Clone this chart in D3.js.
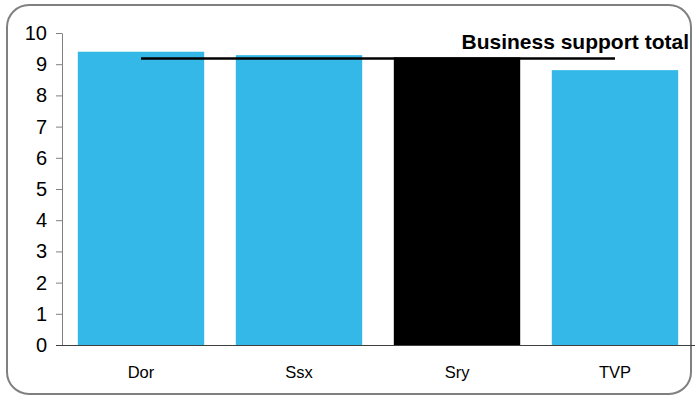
<!DOCTYPE html>
<html><head><meta charset="utf-8">
<script src="https://cdn.jsdelivr.net/npm/d3@7"></script>
<style>
html,body{margin:0;padding:0;background:#fff;}
svg{display:block;font-family:"Liberation Sans",Arial,sans-serif;}
</style></head>
<body>
<svg id="chart" width="697" height="397"></svg>
<script>
const categories = ["Dor", "Ssx", "Sry", "TVP"];
const values = [9.40, 9.29, 9.22, 8.81];
const barColors = ["#33b8e8", "#33b8e8", "#000000", "#33b8e8"];
const totalValue = 9.18;
const totalLabel = "Business support total";
const yTicks = [0,1,2,3,4,5,6,7,8,9,10];

const svg = d3.select("#chart");
svg.append("rect").attr("x",7).attr("y",5).attr("width",684).attr("height",389)
  .attr("rx",22).attr("ry",22).attr("fill","#fff").attr("stroke","#808080").attr("stroke-width",2);

const x = d3.scaleBand().domain(categories).range([62,694]).paddingInner(0.2).paddingOuter(0.1);
const y = d3.scaleLinear().domain([0,10]).range([345,33]);

svg.selectAll("rect.bar").data(categories).enter().append("rect").attr("class","bar")
  .attr("x",d=>x(d)).attr("width",x.bandwidth())
  .attr("y",(d,i)=>y(values[i])).attr("height",(d,i)=>y(0)-y(values[i]))
  .attr("fill",(d,i)=>barColors[i]);

const ya = svg.append("g").attr("transform","translate(62,0)")
  .call(d3.axisLeft(y).tickValues(yTicks).tickSize(6).tickPadding(9).tickSizeOuter(0));
ya.select(".domain").attr("stroke","#808080");
ya.selectAll(".tick line").attr("stroke","#808080");
ya.selectAll("text").attr("font-size",20).attr("fill","#000").attr("font-family","Liberation Sans, Arial, sans-serif");

const xa = svg.append("g").attr("transform","translate(0,345)")
  .call(d3.axisBottom(x).tickSize(0).tickPadding(21).tickSizeOuter(0));
xa.select(".domain").attr("stroke","#404040").attr("stroke-width",1.2).attr("d","M56,0.5H695");
xa.selectAll("text").attr("font-size",16.5).attr("fill","#000").attr("font-family","Liberation Sans, Arial, sans-serif");

const x0 = x(categories[0]) + x.bandwidth()/2;
const x1 = x(categories[categories.length-1]) + x.bandwidth()/2;
svg.append("line").attr("x1",x0).attr("x2",x1).attr("y1",y(totalValue)).attr("y2",y(totalValue))
  .attr("stroke","#000").attr("stroke-width",2.5);
svg.append("text").attr("x",689).attr("y",49).attr("text-anchor","end")
  .attr("font-size",21).attr("font-weight","bold").attr("fill","#000").text(totalLabel);
</script>
</body></html>
